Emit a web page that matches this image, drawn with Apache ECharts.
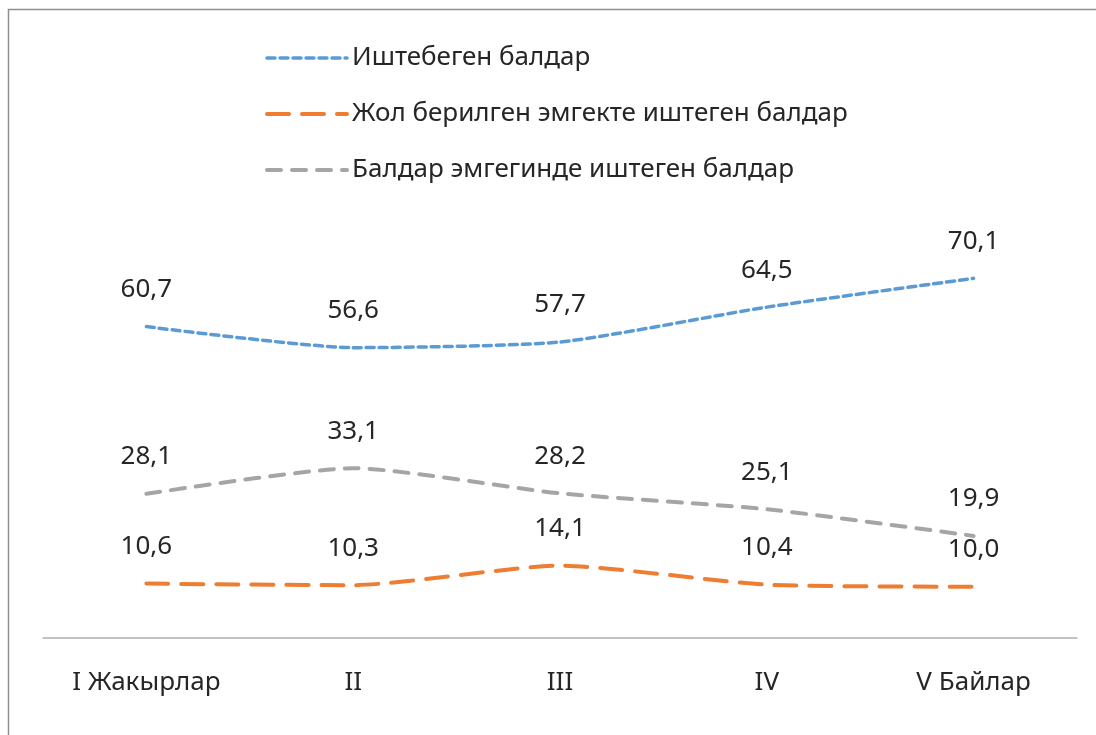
<!DOCTYPE html>
<html lang="ky">
<head>
<meta charset="UTF-8">
<title>Балдар</title>
<script src="https://cdn.jsdelivr.net/npm/echarts@6/dist/echarts.min.js"></script>
<style>
  html, body { margin: 0; padding: 0; background: #fff; }
  #main { width: 1096px; height: 735px; }
</style>
</head>
<body>
<div id="main"></div>
<script>
  // categories and series values
  let categories = ['I Жакырлар', 'II', 'III', 'IV', 'V Байлар'];
  let seriesNames = ['Иштебеген балдар', 'Жол берилген эмгекте иштеген балдар', 'Балдар эмгегинде иштеген балдар'];
  let notWorking = [60.7, 56.6, 57.7, 64.5, 70.1];
  let allowedWork = [10.6, 10.3, 14.1, 10.4, 10.0];
  let childLabour = [28.1, 33.1, 28.2, 25.1, 19.9];

  let font = 'Noto Sans';
  let textColor = '#262626';
  let fmt = p => p.value.toFixed(1).replace('.', ',');

  let colors = ['#5b9bd5', '#ed7d31', '#a5a5a5'];
  let dashes = [[8, 5], [22, 13], [14, 11]];
  let widths = [3.5, 4, 4];

  function makeSeries(i, data) {
    return {
      name: seriesNames[i],
      type: 'line',
      data: data,
      smooth: 0.2,
      symbol: 'circle',
      symbolSize: 0,
      showSymbol: true,
      lineStyle: { color: colors[i], width: widths[i], type: dashes[i], cap: 'round' },
      itemStyle: { color: colors[i] },
      label: {
        show: true,
        position: 'top',
        distance: 24,
        formatter: fmt,
        color: textColor,
        fontFamily: font,
        fontSize: 26
      }
    };
  }

  let myChart = echarts.init(document.getElementById('main'));
  let option = {
    animation: false,
    backgroundColor: '#fff',
    graphic: [{
      type: 'rect',
      shape: { x: 8.5, y: 9.5, width: 1200, height: 1000 },
      style: { fill: 'none', stroke: '#8f8f8f', lineWidth: 1.5 },
      silent: true
    }],
    legend: {
      orient: 'vertical',
      left: 260,
      top: 38,
      itemWidth: 80,
      itemHeight: 20,
      itemGap: 26,
      itemStyle: { opacity: 0 },
      data: seriesNames.map((n, i) => ({
        name: n,
        lineStyle: { color: colors[i], width: widths[i], type: dashes[i], cap: 'round' }
      })),
      textStyle: { fontFamily: font, fontSize: 26, color: textColor, lineHeight: 30 }
    },
    grid: { left: 43, right: 19, top: 125, bottom: 97 },
    xAxis: {
      type: 'category',
      data: categories,
      boundaryGap: true,
      axisLine: { lineStyle: { color: '#b0b0b0', width: 1.5 } },
      axisTick: { show: false },
      axisLabel: { margin: 32, color: textColor, fontFamily: font, fontSize: 26 }
    },
    yAxis: {
      type: 'value',
      min: 0,
      max: 100,
      show: false,
      splitLine: { show: false }
    },
    series: [
      makeSeries(0, notWorking),
      makeSeries(1, allowedWork),
      makeSeries(2, childLabour)
    ]
  };
  myChart.setOption(option);
</script>
</body>
</html>
